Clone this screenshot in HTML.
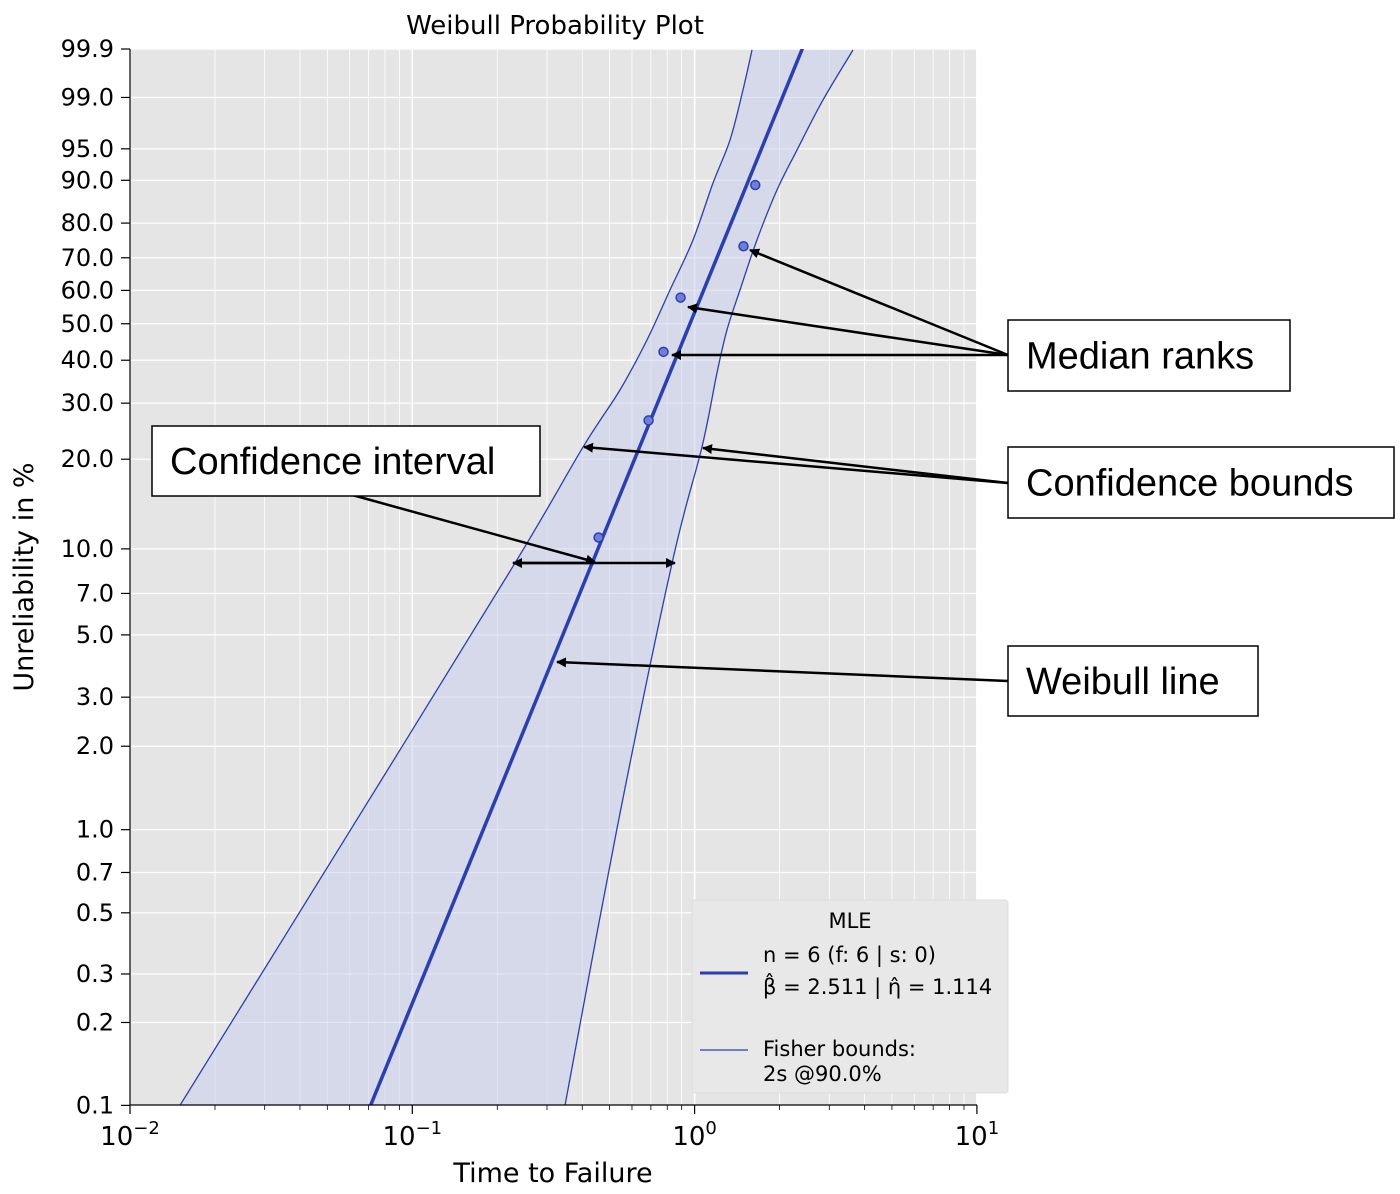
<!DOCTYPE html>
<html><head><meta charset="utf-8"><style>
body{margin:0;background:#fff}
svg text{font-family:"DejaVu Sans","Liberation Sans",sans-serif}
svg text.ann{font-family:"Liberation Sans",sans-serif}
</style></head><body>
<svg id="c" width="1400" height="1189" xmlns="http://www.w3.org/2000/svg">
<defs><marker id="ah" markerWidth="10" markerHeight="10" refX="9" refY="5" orient="auto" markerUnits="userSpaceOnUse"><path d="M0,0 L10,5 L0,10 z" fill="#000"/></marker>
<clipPath id="pc"><rect x="130" y="49" width="847" height="1056"/></clipPath></defs>
<rect x="130" y="49" width="847" height="1056" fill="#e5e5e5"/>
<g id="grid"></g>
<g id="marks" clip-path="url(#pc)"></g>
<g id="axes"></g>
<text x="555" y="34" font-size="26" text-anchor="middle">Weibull Probability Plot</text>
<text x="553" y="1182" font-size="27" text-anchor="middle">Time to Failure</text>
<text transform="translate(33,577) rotate(-90)" font-size="27" text-anchor="middle">Unreliability in %</text>
<g>
<rect x="692" y="900" width="316" height="193" fill="#e8e8e8" stroke="#ddd" rx="3"/>
<text x="850" y="928" font-size="21" text-anchor="middle">MLE</text>
<line x1="700" y1="973" x2="748" y2="973" stroke="#2b3fb0" stroke-width="3"/>
<text x="763" y="962" font-size="21">n = 6 (f: 6 | s: 0)</text>
<text x="763" y="994" font-size="21">β̂ = 2.511 | η̂ = 1.114</text>
<line x1="700" y1="1050" x2="748" y2="1050" stroke="#2b3fb0" stroke-width="1.2"/>
<text x="763" y="1056" font-size="21">Fisher bounds:</text>
<text x="763" y="1081" font-size="21">2s @90.0%</text>
</g>
<g id="ann"></g>
</svg>
<script>
const yTicks=[99.9,99,95,90,80,70,60,50,40,30,20,10,7,5,3,2,1,0.7,0.5,0.3,0.2,0.1];
const xDecades=[-2,-1,0,1];
const beta=2.511, eta=1.114;
const pointTimes=[0.457,0.687,0.776,0.892,1.49,1.64];
const pointF=[0.1094,0.2656,0.4219,0.5781,0.7344,0.8906];
const lowerF=[0.99894,0.9926,0.9603,0.8947,0.7527,0.6012,0.454,0.3285,0.2189,0.0893,0.00965,0.001];
const lowerT=[1.597,1.484,1.335,1.162,0.987,0.818,0.678,0.544,0.4025,0.2311,0.0592,0.01503];
const upperF=[0.99894,0.9890,0.9485,0.8803,0.7527,0.6012,0.482,0.3681,0.2189,0.0893,0.0101,0.001];
const upperT=[3.640,2.850,2.305,1.958,1.663,1.448,1.302,1.200,1.062,0.832,0.531,0.3475];
const NS="http://www.w3.org/2000/svg";
const X=t=>130+282.3*(Math.log10(t)+2);
const Y=F=>49+(1.9327-Math.log(-Math.log(1-F)))*119.5;
function mk(tag,at,par){const e=document.createElementNS(NS,tag);for(const k in at)e.setAttribute(k,at[k]);document.getElementById(par).appendChild(e);return e;}
for(let d=-2;d<1;d++)for(let m=1;m<10;m++){const x=X(m*Math.pow(10,d));
const g=mk('line',{x1:x,x2:x,y1:49,y2:1105,stroke:'#fff','stroke-width':m==1?1.6:0.8},'grid');
}
{const g=mk('line',{x1:X(10),x2:X(10),y1:49,y2:1105,stroke:'#fff','stroke-width':1.6},'grid');}
yTicks.forEach(v=>{const y=Y(v/100);
const g=mk('line',{x1:130,x2:977,y1:y,y2:y,stroke:'#fff','stroke-width':1.2},'grid');

mk('line',{x1:121,x2:130,y1:y,y2:y,stroke:'#000','stroke-width':1.2},'axes');
const t=mk('text',{x:114,y:y+8,'font-size':24,'text-anchor':'end'},'axes');t.textContent=v.toFixed(1);
});
mk('line',{x1:130,x2:130,y1:49,y2:1105,stroke:'#000','stroke-width':1.2},'axes');
mk('line',{x1:130,x2:977,y1:1105,y2:1105,stroke:'#000','stroke-width':1.2},'axes');
xDecades.forEach(d=>{const x=X(Math.pow(10,d));
mk('line',{x1:x,x2:x,y1:1105,y2:1114,stroke:'#000','stroke-width':1.2},'axes');
const t=mk('text',{x:x,y:1145,'font-size':26,'text-anchor':'middle'},'axes');
t.innerHTML='10<tspan dy="-11" font-size="18">'+(d<0?'−'+(-d):d)+'</tspan>';

if(d<1)for(let m=2;m<10;m++){const xm=X(m*Math.pow(10,d));mk('line',{x1:xm,x2:xm,y1:1105,y2:1110,stroke:'#000','stroke-width':0.8},'axes');}});
const lp=lowerF.map((f,i)=>[X(lowerT[i]),Y(f)]), up=upperF.map((f,i)=>[X(upperT[i]),Y(f)]);
function smooth(p){let d='M'+p[0][0]+','+p[0][1];for(let i=0;i<p.length-1;i++){const p0=p[i-1]||p[i],p1=p[i],p2=p[i+1],p3=p[i+2]||p2;
d+=` C${p1[0]+(p2[0]-p0[0])/6},${p1[1]+(p2[1]-p0[1])/6} ${p2[0]-(p3[0]-p1[0])/6},${p2[1]-(p3[1]-p1[1])/6} ${p2[0]},${p2[1]}`;}return d;}
const ld=smooth(lp), ud=smooth(up.slice().reverse());
const band=mk('path',{d:ld+' L'+ud.slice(1)+' Z',fill:'#c8d0ec','fill-opacity':0.55},'marks');

const lb=mk('path',{d:ld,fill:'none',stroke:'#2b3fb0','stroke-width':1.3},'marks');

const ub=mk('path',{d:smooth(up),fill:'none',stroke:'#2b3fb0','stroke-width':1.3},'marks');

const tl=t=>eta*Math.pow(-Math.log(1-t),1/beta);
const wl=mk('line',{x1:X(tl(0.0009)),y1:Y(0.0009),x2:X(tl(0.9995)),y2:Y(0.9995),stroke:'#2b3fb0','stroke-width':3.5},'marks');

pointTimes.forEach((t,i)=>{const c=mk('circle',{cx:X(t),cy:Y(pointF[i]),r:4.5,fill:'#6f7fd8',stroke:'#2b3fb0','stroke-width':1.5},'marks');
});
function box(x,y,w,h,txt,name){const b=mk('rect',{x:x,y:y,width:w,height:h,fill:'#fff',stroke:'#000','stroke-width':1.5},'ann');

const t=mk('text',{x:x+18,y:y+h/2+13,'font-size':38,'class':'ann'},'ann');t.textContent=txt;}
function arr(x1,y1,x2,y2){const a=mk('line',{x1:x1,y1:y1,x2:x2,y2:y2,stroke:'#000','stroke-width':2.5,'marker-end':'url(#ah)'},'ann');
}
arr(1008,355,750,250);arr(1008,355,688,307);arr(1008,355,672,355);
arr(1008,483,584,447);arr(1008,483,703,448);
arr(345,493,595,562);
arr(513,563,675,563);arr(594,563,513,563);
arr(1008,681,557,662);
box(1008,320,282,71,'Median ranks','median-ranks-label');
box(1008,447,386,71,'Confidence bounds','confidence-bounds-label');
box(152,426,388,70,'Confidence interval','confidence-interval-label');
box(1008,646,250,70,'Weibull line','weibull-line-label');
</script>
</body></html>
